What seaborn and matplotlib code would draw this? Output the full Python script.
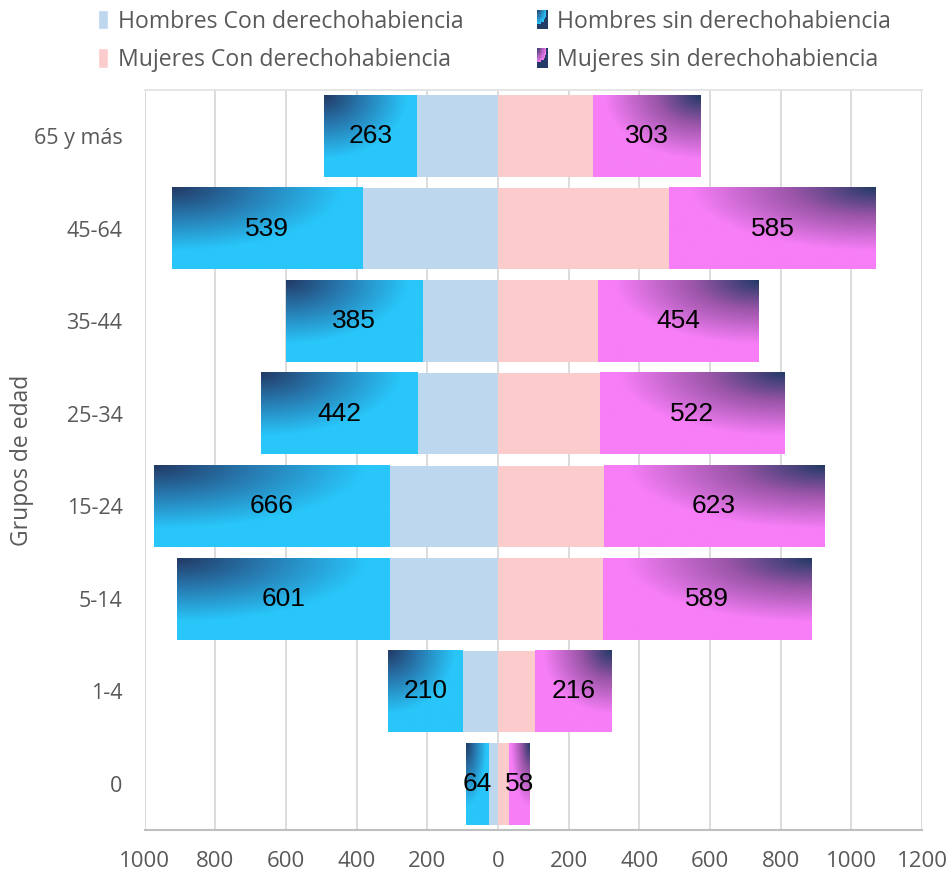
import numpy as np
import pandas as pd
import matplotlib
matplotlib.use('Agg')
import matplotlib.pyplot as plt
import seaborn as sns
from matplotlib.colors import LinearSegmentedColormap
from matplotlib.legend_handler import HandlerBase
from matplotlib.patches import Rectangle, Patch

# Datos
grupos = ['65 y más', '45-64', '35-44', '25-34', '15-24', '5-14', '1-4', '0']
hombres_con = [230, 384, 214, 228, 308, 307, 100, 26]
hombres_sin = [263, 539, 385, 442, 666, 601, 210, 64]
mujeres_con = [270, 485, 282, 288, 300, 297, 106, 31]
mujeres_sin = [303, 585, 454, 522, 623, 589, 216, 58]

# Colores
AZUL_CLARO = '#BDD7EE'
ROSA_CLARO = '#FCCCCC'
CIAN = '#29C6FA'
MAGENTA = '#F77EF7'
OSCURO = '#233A66'
GRIS_TEXTO = '#595959'

cmap_h = LinearSegmentedColormap.from_list('h', [(0, OSCURO), (0.45, '#2778AE'), (1, CIAN)])
cmap_m = LinearSegmentedColormap.from_list('m', [(0, OSCURO), (0.45, '#9A55A8'), (1, MAGENTA)])


def degradado(nx=120, ny=60):
    # u: desde el extremo exterior, v: desde arriba
    u = np.linspace(0, 1, nx)[None, :]
    v = np.linspace(0, 1, ny)[:, None]
    t = np.sqrt((u / 0.9) ** 2 + (v / 0.78) ** 2)
    return np.clip(t, 0, 1)


class HandlerDegradado(HandlerBase):
    def __init__(self, cmap):
        super().__init__()
        self.cmap = cmap

    def create_artists(self, legend, orig_handle, xdescent, ydescent, width, height, fontsize, trans):
        n = 8
        artistas = []
        for i in range(n):
            for j in range(n):
                u = (i + 0.5) / n
                v = (j + 0.5) / n
                t = min(1, np.sqrt((u / 0.9) ** 2 + (v / 0.78) ** 2))
                r = Rectangle((-xdescent + i * width / n, -ydescent + height - (j + 1) * height / n),
                              width / n + 0.3, height / n + 0.3, facecolor=self.cmap(t),
                              edgecolor='none', transform=trans)
                artistas.append(r)
        return artistas


df = pd.DataFrame({
    'grupo': grupos,
    'h_total': -(np.array(hombres_con) + np.array(hombres_sin)),
    'h_con': -np.array(hombres_con),
    'm_total': np.array(mujeres_con) + np.array(mujeres_sin),
    'm_con': np.array(mujeres_con),
})

sns.set_style('white')
plt.rcParams['font.family'] = ['Open Sans', 'DejaVu Sans']

fig = plt.figure(figsize=(9.52, 8.72), dpi=100)
ax = fig.add_axes([0.152, 0.048, 0.8165, 0.849])

ANCHO = 0.88
for col, color in [('h_total', CIAN), ('h_con', AZUL_CLARO), ('m_total', MAGENTA), ('m_con', ROSA_CLARO)]:
    sns.barplot(data=df, y='grupo', x=col, color=color, orient='h', width=ANCHO,
                errorbar=None, saturation=1, linewidth=0, ax=ax)

cont = ax.containers
img = degradado()
for i in range(len(grupos)):
    # hombres sin derechohabiencia
    tot, con = cont[0][i], cont[1][i]
    x_ext = min(tot.get_x(), tot.get_x() + tot.get_width())
    x_int = min(con.get_x(), con.get_x() + con.get_width())
    y0, h = tot.get_y(), tot.get_height()
    ax.imshow(img, cmap=cmap_h, vmin=0, vmax=1, extent=(x_ext, x_int, y0 + h, y0),
              origin='upper', aspect='auto', interpolation='bilinear', zorder=1.5)
    ax.text((x_ext + x_int) / 2, y0 + h / 2, str(hombres_sin[i]), ha='center', va='center',
            fontsize=19, family='Liberation Sans', color='black', zorder=3)
    # mujeres sin derechohabiencia
    tot, con = cont[2][i], cont[3][i]
    x_ext = max(tot.get_x(), tot.get_x() + tot.get_width())
    x_int = max(con.get_x(), con.get_x() + con.get_width())
    ax.imshow(img[:, ::-1], cmap=cmap_m, vmin=0, vmax=1, extent=(x_int, x_ext, y0 + h, y0),
              origin='upper', aspect='auto', interpolation='bilinear', zorder=1.5)
    ax.text((x_ext + x_int) / 2, y0 + h / 2, str(mujeres_sin[i]), ha='center', va='center',
            fontsize=19, family='Liberation Sans', color='black', zorder=3)

ax.set_xlim(-1000, 1200)
ax.set_ylim(len(grupos) - 0.5, -0.5)
ax.set_xticks(range(-1000, 1201, 200))
ax.set_xticklabels([str(abs(v)) for v in range(-1000, 1201, 200)], fontsize=16, color=GRIS_TEXTO)
ax.tick_params(axis='x', direction='out', length=8, width=1.5, color='#BFBFBF', pad=7)
ax.tick_params(axis='y', length=0, pad=16, labelsize=15.5, labelcolor=GRIS_TEXTO)
ax.xaxis.grid(True, color='#D9D9D9', lw=1.3)
ax.set_axisbelow(True)
ax.set_xlabel('')
ax.set_ylabel('Grupos de edad', fontsize=16.5, color=GRIS_TEXTO)
ax.yaxis.set_label_coords(-0.142, 0.5)

for lado in ['left', 'right']:
    ax.spines[lado].set_visible(False)
ax.spines['top'].set_color('#E3E3E3')
ax.spines['top'].set_linewidth(1.3)
ax.spines['bottom'].set_color('#BFBFBF')
ax.spines['bottom'].set_linewidth(1.5)

# Leyenda
h_hc = Patch(facecolor=AZUL_CLARO)
h_mc = Patch(facecolor=ROSA_CLARO)
h_hs = Patch(facecolor=CIAN)
h_ms = Patch(facecolor=MAGENTA)
fig.legend([h_hc, h_mc, h_hs, h_ms],
           ['Hombres Con derechohabiencia', 'Mujeres Con derechohabiencia',
            'Hombres sin derechohabiencia', 'Mujeres sin derechohabiencia'],
           handler_map={h_hs: HandlerDegradado(cmap_h), h_ms: HandlerDegradado(cmap_m)},
           loc='upper left', bbox_to_anchor=(0.103, 0.989), ncol=2, frameon=False,
           fontsize=16.6, labelcolor=GRIS_TEXTO, handlelength=0.45, handleheight=0.9,
           handletextpad=0.4, columnspacing=3.2, labelspacing=0.62, borderpad=0,
           borderaxespad=0)

fig.savefig('out.png', dpi=100)
